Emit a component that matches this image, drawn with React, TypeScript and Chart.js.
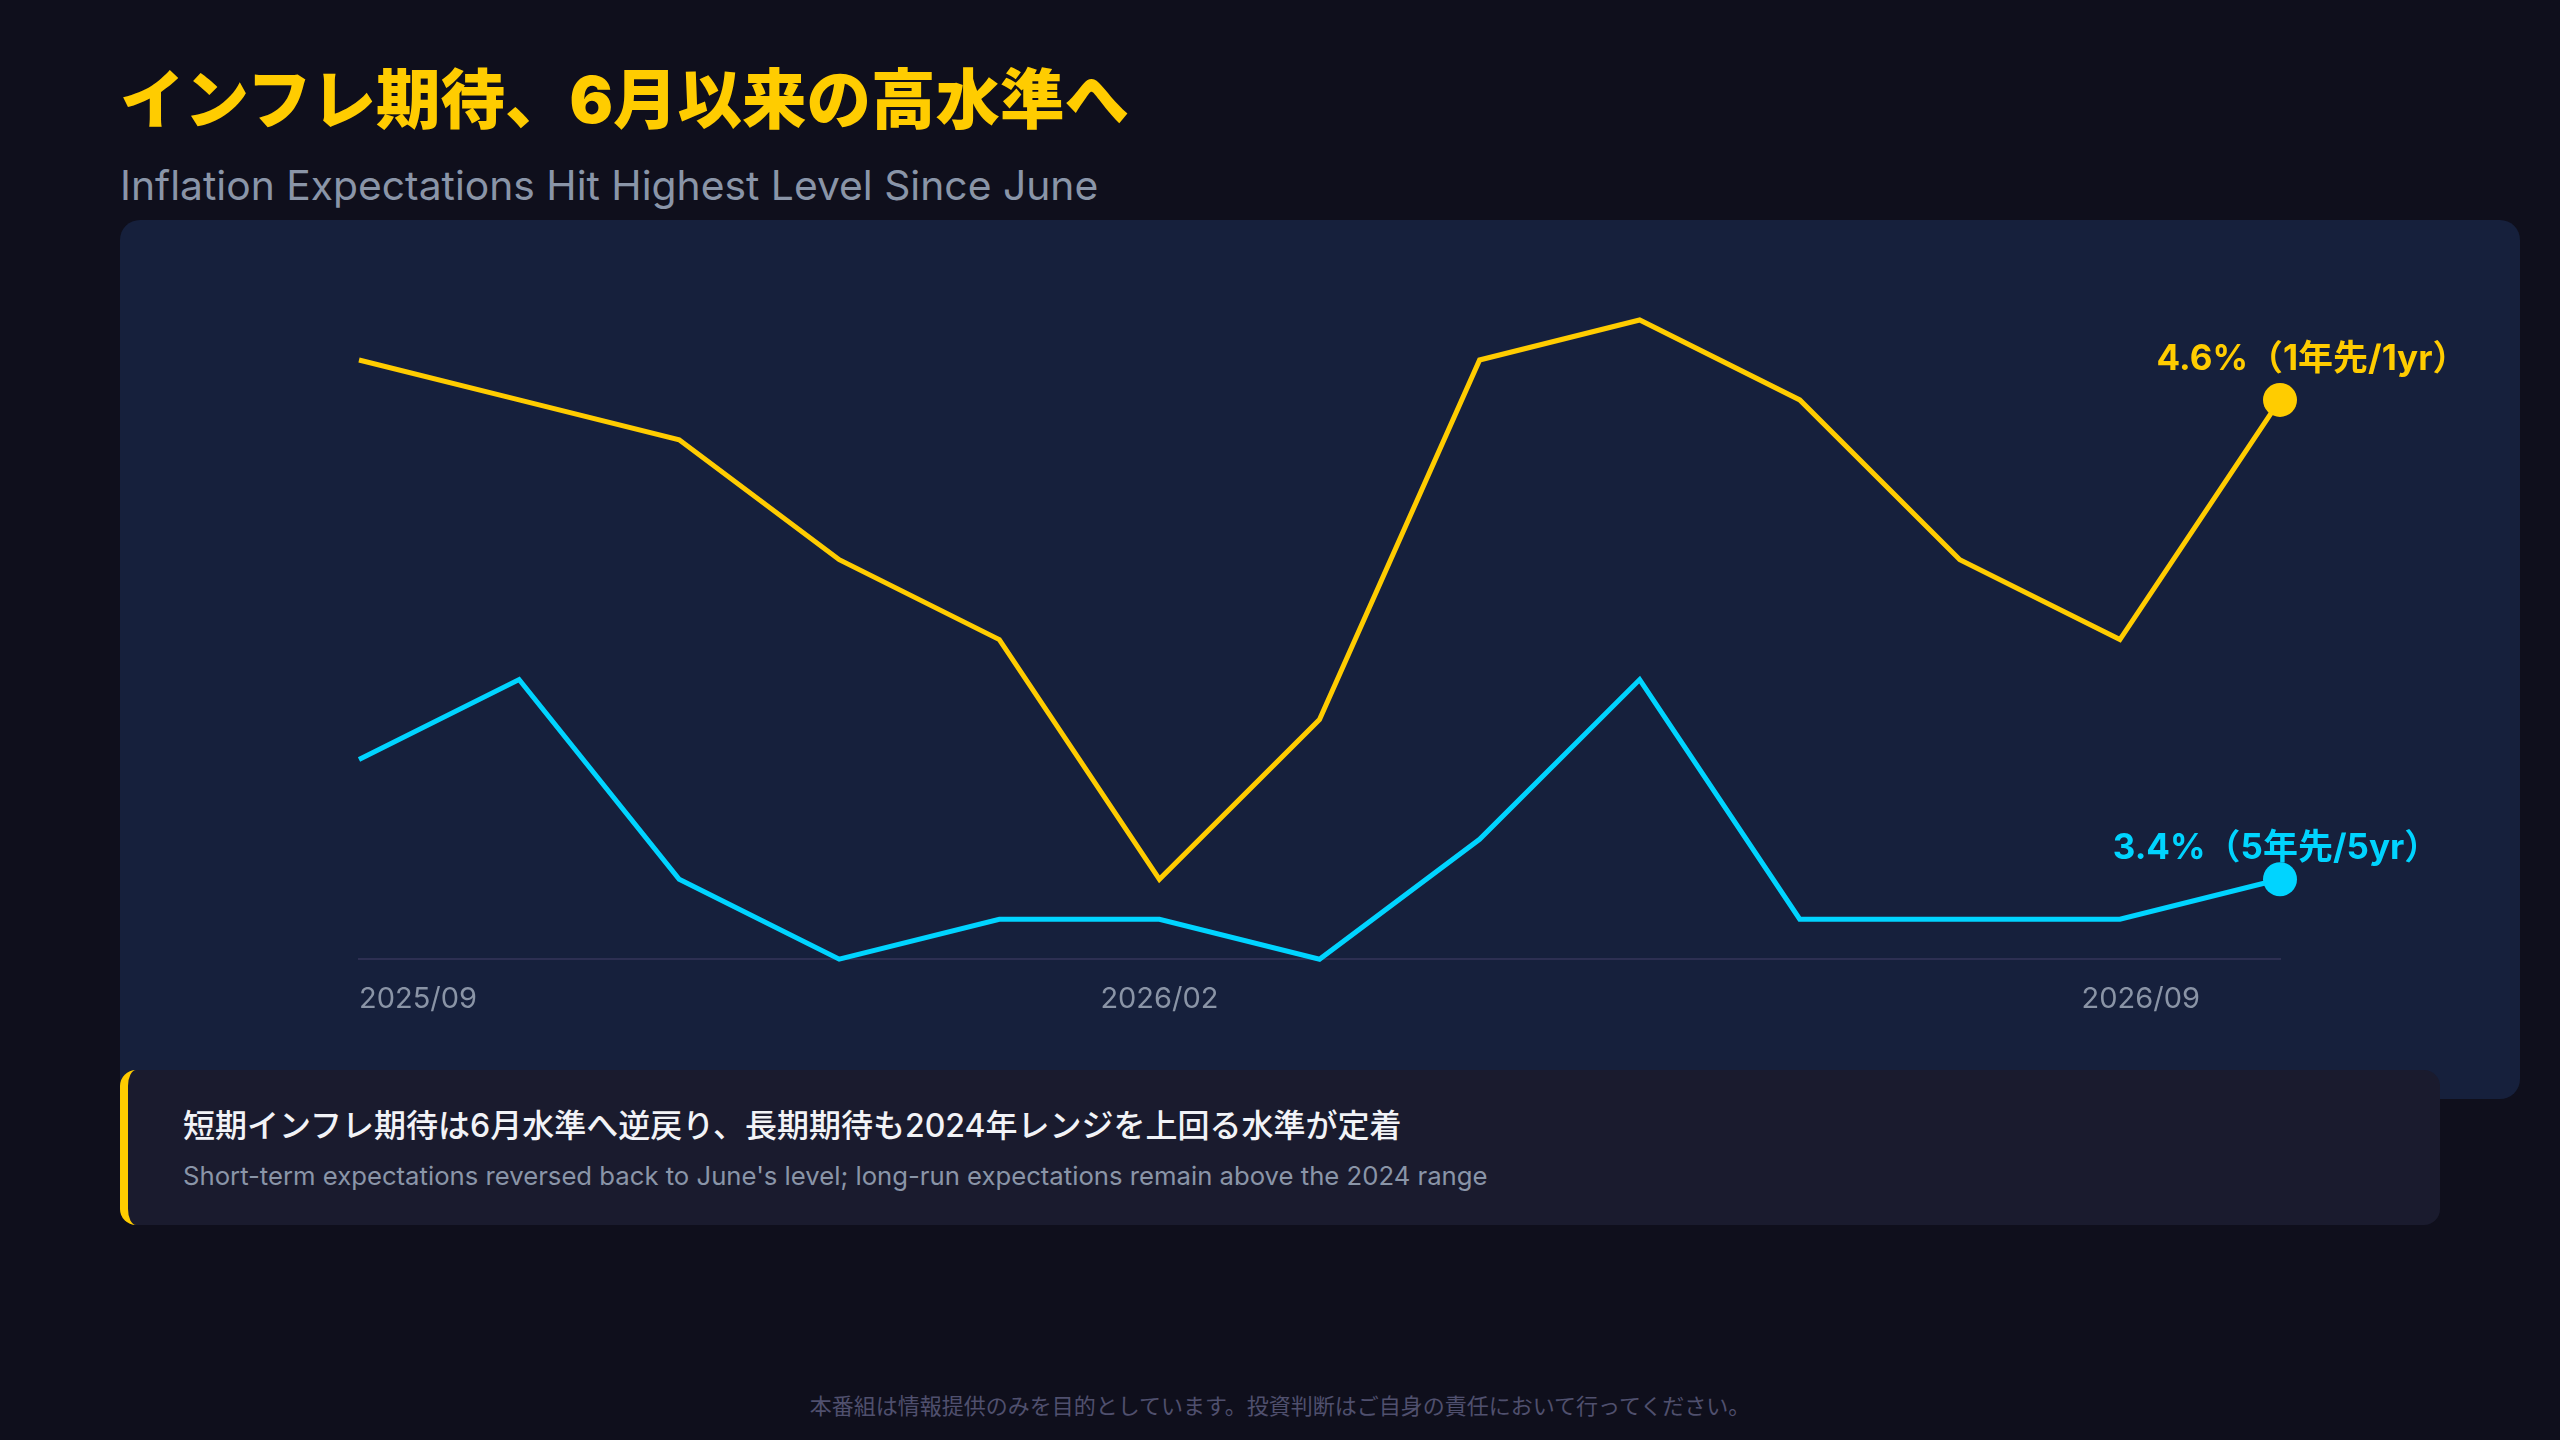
import React, { useEffect, useRef } from 'react'
import { Chart, registerables } from 'chart.js'

Chart.register(...registerables)

// monthly survey readings, %
const months = [
  '2025/09', '2025/10', '2025/11', '2025/12', '2026/01', '2026/02', '2026/03',
  '2026/04', '2026/05', '2026/06', '2026/07', '2026/08', '2026/09',
]
const oneYear = [4.7, 4.6, 4.5, 4.2, 4.0, 3.4, 3.8, 4.7, 4.8, 4.6, 4.2, 4.0, 4.6]
const fiveYear = [3.7, 3.9, 3.4, 3.2, 3.3, 3.3, 3.2, 3.5, 3.9, 3.3, 3.3, 3.3, 3.4]
const seriesTags = ['1年先/1yr', '5年先/5yr']

// x tick labels and where they sit on the month index axis
const tickLabels = ['2025/09', '2026/02', '2026/09']
const tickSpots = [0, 5, 11.5]

const GOLD = '#ffcc00'
const CYAN = '#00d4ff'
const FONT = 'Inter, "Noto Sans CJK JP", sans-serif'

const labelOffsets = [
  { dx: 32, dy: -40 },
  { dx: -4, dy: -31 },
]

const endLabels = {
  id: 'endLabels',
  afterDatasetsDraw(chart: any) {
    const ctx = chart.ctx
    chart.data.datasets.forEach((ds: any, i: number) => {
      const meta = chart.getDatasetMeta(i)
      const pt = meta.data[meta.data.length - 1]
      const last = ds.data[ds.data.length - 1].y
      const off = labelOffsets[i]
      ctx.save()
      ctx.font = `700 35px ${FONT}`
      ctx.fillStyle = ds.borderColor
      ctx.textAlign = 'center'
      ctx.textBaseline = 'middle'
      ctx.fillText(`${last.toFixed(1)}%（${seriesTags[i]}）`, pt.x + off.dx, pt.y + off.dy)
      ctx.restore()
    })
  },
}

const lastOnly = (n: number, r: number) => Array.from({ length: n }, (_, i) => (i === n - 1 ? r : 0))

const ExpectationsChart: React.FC = () => {
  const chartRef = useRef<HTMLCanvasElement | null>(null)

  useEffect(() => {
    if (!chartRef.current) return
    const ctx = chartRef.current.getContext('2d')
    if (!ctx) return

    const myChart = new Chart(ctx, {
      type: 'line',
      data: {
        labels: months,
        datasets: [
          {
            label: '1yr',
            data: oneYear.map((v, i) => ({ x: i, y: v })),
            borderColor: GOLD,
            backgroundColor: GOLD,
            borderWidth: 5,
            pointRadius: lastOnly(oneYear.length, 17),
            pointBorderWidth: 0,
            pointBackgroundColor: GOLD,
            tension: 0,
            clip: false,
          },
          {
            label: '5yr',
            data: fiveYear.map((v, i) => ({ x: i, y: v })),
            borderColor: CYAN,
            backgroundColor: CYAN,
            borderWidth: 5,
            pointRadius: lastOnly(fiveYear.length, 17),
            pointBorderWidth: 0,
            pointBackgroundColor: CYAN,
            tension: 0,
            clip: false,
          },
        ],
      },
      options: {
        responsive: false,
        animation: false,
        devicePixelRatio: 1,
        layout: { padding: { left: 239, right: 240, top: 100, bottom: 59 } },
        plugins: {
          legend: { display: false },
          tooltip: { enabled: false },
        },
        scales: {
          x: {
            type: 'linear',
            min: 0,
            max: months.length - 1,
            afterBuildTicks: (axis: any) => {
              axis.ticks = tickSpots.map((v) => ({ value: v }))
            },
            grid: { display: false, drawTicks: false },
            border: { display: true, color: '#2d2f52', width: 2 },
            ticks: {
              autoSkip: false,
              maxRotation: 0,
              align: 'inner',
              padding: 23,
              color: '#8a94a6',
              font: { family: FONT, size: 29 },
              callback: (_v: any, i: number) => tickLabels[i],
            },
          },
          y: {
            display: false,
            min: 3.2,
            max: 4.8,
          },
        },
      },
      plugins: [endLabels],
    } as any)

    return () => {
      myChart.destroy()
    }
  }, [])

  return <canvas ref={chartRef} width={2400} height={879} style={{ display: 'block' }} />
}

const App: React.FC = () => {
  return (
    <div
      style={{
        position: 'fixed',
        left: 0,
        top: 0,
        width: 2560,
        height: 1440,
        background: '#0f0f1c',
        fontFamily: FONT,
        overflow: 'hidden',
      }}
    >
      <div
        style={{
          position: 'absolute',
          left: 120,
          top: 68,
          fontSize: 64.5,
          lineHeight: '64px',
          fontWeight: 900,
          color: GOLD,
          whiteSpace: 'nowrap',
        }}
      >
        インフレ期待、6月以来の高水準へ
      </div>
      <div
        style={{
          position: 'absolute',
          left: 120,
          top: 165,
          fontSize: 40.8,
          lineHeight: '41px',
          color: '#8a95a8',
          whiteSpace: 'nowrap',
        }}
      >
        Inflation Expectations Hit Highest Level Since June
      </div>

      <div
        style={{
          position: 'absolute',
          left: 120,
          top: 220,
          width: 2400,
          height: 879,
          background: '#16203c',
          borderRadius: 20,
          overflow: 'hidden',
        }}
      >
        <ExpectationsChart />
      </div>

      <div
        style={{
          position: 'absolute',
          left: 120,
          top: 1070,
          width: 2320,
          height: 155,
          boxSizing: 'border-box',
          background: '#1a1b2e',
          borderLeft: `8px solid ${GOLD}`,
          borderRadius: 16,
        }}
      >
        <div
          style={{
            position: 'absolute',
            left: 55,
            top: 40,
            fontSize: 32,
            lineHeight: '32px',
            fontWeight: 500,
            color: '#f2f3f7',
            whiteSpace: 'nowrap',
          }}
        >
          短期インフレ期待は6月水準へ逆戻り、長期期待も2024年レンジを上回る水準が定着
        </div>
        <div
          style={{
            position: 'absolute',
            left: 55,
            top: 93,
            fontSize: 25.7,
            lineHeight: '26px',
            color: '#8a95a8',
            whiteSpace: 'nowrap',
          }}
        >
          Short-term expectations reversed back to June's level; long-run expectations remain above the 2024 range
        </div>
      </div>

      <div
        style={{
          position: 'absolute',
          left: 0,
          width: 2560,
          top: 1395,
          textAlign: 'center',
          fontSize: 22,
          lineHeight: '22px',
          color: '#50506e',
        }}
      >
        本番組は情報提供のみを目的としています。投資判断はご自身の責任において行ってください。
      </div>
    </div>
  )
}

export default App
